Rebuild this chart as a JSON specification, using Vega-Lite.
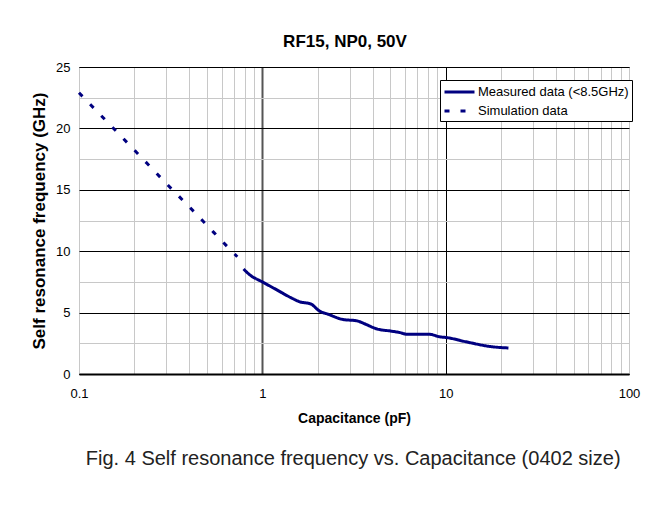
{
  "$schema": "https://vega.github.io/schema/vega-lite/v6.json",
  "padding": {"left": 30, "top": 32, "right": 5, "bottom": 5},
  "background": "white",
  "title": {
    "text": "Fig. 4 Self resonance frequency vs. Capacitance (0402 size)",
    "orient": "bottom",
    "anchor": "middle",
    "font": "Liberation Sans",
    "fontSize": 20,
    "fontWeight": "normal",
    "color": "#222222",
    "offset": 23,
    "dx": 18
  },
  "vconcat": [
    {
      "width": 550,
      "height": 307,
      "title": {
        "text": "RF15, NP0, 50V",
        "anchor": "middle",
        "frame": "group",
        "font": "Liberation Sans",
        "fontSize": 17,
        "fontWeight": "bold",
        "color": "black",
        "offset": 10,
        "dx": -9
      },
      "data": {
        "values": [
          {"c": 0.1, "f": 22.9, "series": "Simulation data"},
          {"c": 0.2, "f": 18.25, "series": "Simulation data"},
          {"c": 0.3, "f": 15.5, "series": "Simulation data"},
          {"c": 0.4, "f": 13.6, "series": "Simulation data"},
          {"c": 0.5, "f": 12.1, "series": "Simulation data"},
          {"c": 0.6, "f": 10.85, "series": "Simulation data"},
          {"c": 0.73, "f": 9.55, "series": "Simulation data"},
          {"c": 0.79, "f": 8.55, "series": "Measured data (<8.5GHz)"},
          {"c": 0.85, "f": 8.1, "series": "Measured data (<8.5GHz)"},
          {"c": 1.0, "f": 7.5, "series": "Measured data (<8.5GHz)"},
          {"c": 1.2, "f": 6.85, "series": "Measured data (<8.5GHz)"},
          {"c": 1.46, "f": 6.15, "series": "Measured data (<8.5GHz)"},
          {"c": 1.6, "f": 5.88, "series": "Measured data (<8.5GHz)"},
          {"c": 1.84, "f": 5.7, "series": "Measured data (<8.5GHz)"},
          {"c": 2.04, "f": 5.15, "series": "Measured data (<8.5GHz)"},
          {"c": 2.3, "f": 4.85, "series": "Measured data (<8.5GHz)"},
          {"c": 2.73, "f": 4.45, "series": "Measured data (<8.5GHz)"},
          {"c": 3.3, "f": 4.32, "series": "Measured data (<8.5GHz)"},
          {"c": 3.6, "f": 4.1, "series": "Measured data (<8.5GHz)"},
          {"c": 4.24, "f": 3.66, "series": "Measured data (<8.5GHz)"},
          {"c": 5.0, "f": 3.5, "series": "Measured data (<8.5GHz)"},
          {"c": 5.56, "f": 3.39, "series": "Measured data (<8.5GHz)"},
          {"c": 6.2, "f": 3.23, "series": "Measured data (<8.5GHz)"},
          {"c": 8.2, "f": 3.23, "series": "Measured data (<8.5GHz)"},
          {"c": 9.2, "f": 3.04, "series": "Measured data (<8.5GHz)"},
          {"c": 10.2, "f": 2.96, "series": "Measured data (<8.5GHz)"},
          {"c": 12.85, "f": 2.63, "series": "Measured data (<8.5GHz)"},
          {"c": 17.9, "f": 2.22, "series": "Measured data (<8.5GHz)"},
          {"c": 22.0, "f": 2.12, "series": "Measured data (<8.5GHz)"}
        ]
      },
      "mark": {"type": "line", "color": "#000080", "strokeWidth": 3, "strokeCap": "butt", "interpolate": "monotone"},
      "encoding": {
        "x": {
          "field": "c",
          "type": "quantitative",
          "scale": {"type": "log", "domain": [0.1, 100], "nice": false},
          "axis": {
            "title": "Capacitance (pF)",
            "values": [0.1,0.2,0.3,0.4,0.5,0.6,0.7,0.8,0.9,1,2,3,4,5,6,7,8,9,10,20,30,40,50,60,70,80,90,100],
            "labelExpr": "(datum.value == 0.1 || datum.value == 1 || datum.value == 10 || datum.value == 100) ? format(datum.value, '~g') : ''",
            "ticks": false,
            "tickSize": 0,
            "labelPadding": 13,
            "labelFont": "Liberation Sans",
            "labelFontSize": 13,
            "labelColor": "black",
            "labelFlush": false,
            "labelOverlap": false,
            "titleFont": "Liberation Sans",
            "titleFontSize": 14,
            "titleFontWeight": "bold",
            "titleColor": "black",
            "titlePadding": 11,
            "domainColor": "black",
            "domainWidth": 2,
            "grid": true,
            "gridColor": {"condition": [{"test": "datum.value == 1", "value": "#555555"}, {"test": "datum.value == 10", "value": "black"}], "value": "#c8c8c8"},
            "gridWidth": {"condition": {"test": "datum.value == 1", "value": 2}, "value": 1}
          }
        },
        "y": {
          "field": "f",
          "type": "quantitative",
          "scale": {"domain": [0, 25], "nice": false},
          "axis": {
            "title": "Self resonance frequency (GHz)",
            "values": [0,2.5,5,7.5,10,12.5,15,17.5,20,22.5,25],
            "labelExpr": "datum.value % 5 == 0 ? datum.label : ''",
            "ticks": false,
            "tickSize": 0,
            "labelPadding": 9,
            "labelFont": "Liberation Sans",
            "labelFontSize": 13,
            "labelColor": "black",
            "labelFlush": false,
            "labelOverlap": false,
            "titleFont": "Liberation Sans",
            "titleFontSize": 17,
            "titleFontWeight": "bold",
            "titleColor": "black",
            "titlePadding": 7,
            "domain": false,
            "grid": true,
            "gridColor": {"condition": {"test": "datum.value % 5 == 0", "value": "black"}, "value": "#c8c8c8"},
            "gridWidth": 1
          }
        },
        "strokeDash": {
          "field": "series",
          "type": "nominal",
          "scale": {"domain": ["Measured data (<8.5GHz)", "Simulation data"], "range": [[1, 0], [5, 11]]},
          "legend": {
            "title": null,
            "orient": "none",
            "legendX": 361,
            "legendY": 13,
            "symbolType": "M-1,0H3",
            "symbolSize": 225,
            "symbolStrokeWidth": 3,
            "symbolStrokeColor": "#000080",
            "symbolDash": {"expr": "datum.value == 'Simulation data' ? [6, 12] : [1, 0]"},
            "labelFont": "Liberation Sans",
            "labelFontSize": 13,
            "labelColor": "black",
            "labelOffset": 17,
            "labelLimit": 300,
            "strokeColor": "black",
            "fillColor": "white",
            "padding": 3,
            "rowPadding": 3
          }
        }
      }
    }
  ],
  "config": {
    "view": {"stroke": "black", "strokeWidth": 1},
    "font": "Liberation Sans"
  }
}
